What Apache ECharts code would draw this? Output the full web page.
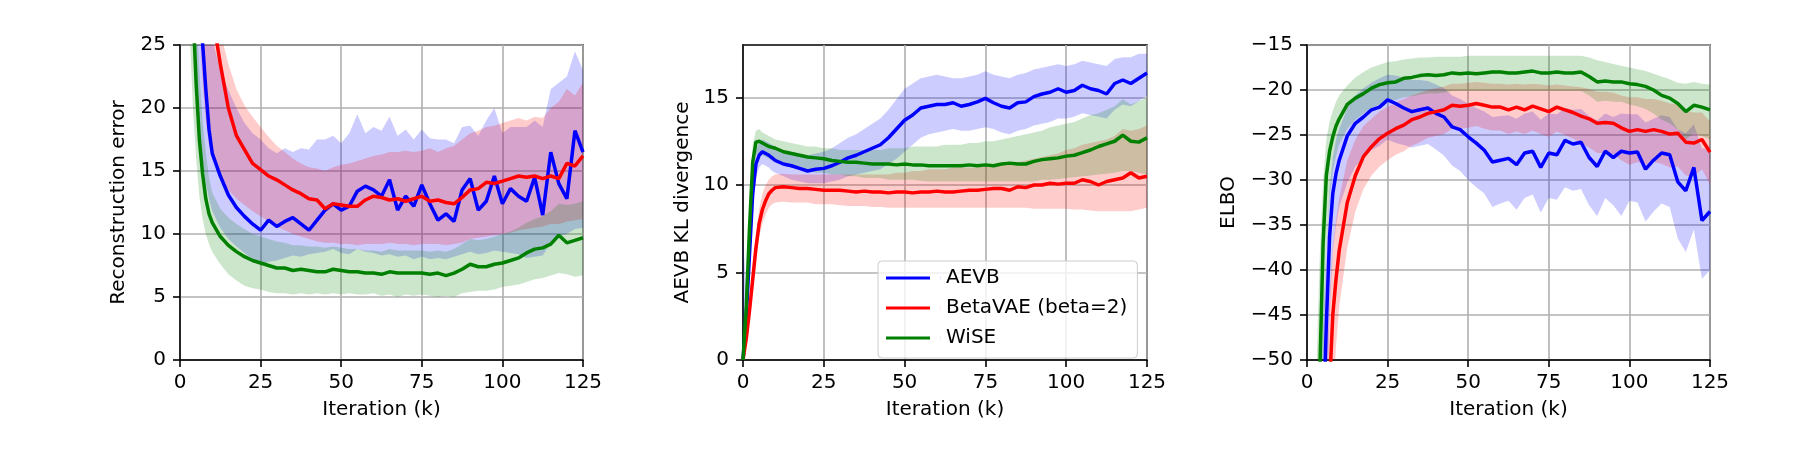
<!DOCTYPE html>
<html>
<head>
<meta charset="utf-8">
<script src="https://cdn.jsdelivr.net/npm/echarts@6/dist/echarts.min.js"></script>
<style>
  html, body { margin: 0; padding: 0; background: #fff; }
  #main { width: 1800px; height: 450px; }
</style>
</head>
<body>
<div id="main"></div>
<script>
// iteration grid (k), fine at the start where curves move fast
var iters = [0,1,2,3,4,5,6,7,8,9,10,
  12.5,15,17.5,20,22.5,25,27.5,30,32.5,35,37.5,40,
  42.5,45,47.5,50,52.5,55,57.5,60,62.5,65,67.5,70,
  72.5,75,77.5,80,82.5,85,87.5,90,92.5,95,97.5,100,
  102.5,105,107.5,110,112.5,115,117.5,120,122.5,125];

// ---- reconstruction error ----
var recAevb = [100,80,62,50,40,33,28,25.2,21.5,18.3,16.4,
  14.6,13.1,12.1,11.4,10.8,10.3,11.1,10.6,11.0,11.3,10.8,10.3,
  11.1,11.9,12.4,11.9,12.2,13.4,13.8,13.5,13.0,14.3,11.9,13.0,
  12.2,13.9,12.4,11.1,11.6,11.0,13.5,14.4,11.9,12.6,14.6,12.4,
  13.6,13.0,12.6,14.5,11.5,16.5,14.0,12.8,18.2,16.5];
var recAevbLo = [60,45,36,30,25,21,18,15.8,14,12.8,11.8,
  10.5,9.6,9.0,8.5,8.0,7.5,7.8,7.9,8.1,8.3,8.2,8.4,
  8.5,8.6,8.8,8.5,8.4,8.8,8.6,8.5,8.3,8.4,8.2,8.3,
  8.0,8.2,8.0,8.1,8.0,8.2,8.4,8.6,8.4,8.5,8.7,8.6,
  8.5,8.4,8.1,8.2,8.3,9.3,9.8,10.0,10.4,10.5];
var recAevbHi = [140,115,90,72,58,48,40,35,30,27,25.5,
  23.0,21.4,20.0,18.8,18.0,17.5,16.8,16.4,16.8,16.5,16.8,16.7,
  17.5,17.5,17.8,17.2,18.0,19.5,18.0,18.5,18.2,19.3,17.8,18.3,
  17.5,18.3,17.6,17.5,17.5,17.2,18.5,18.6,17.8,19.0,20.0,18.0,
  18.5,18.5,18.5,19.0,18.5,21.5,22.0,22.5,24.5,23.0];
var recBeta = [150,120,95,75,60,50,42,37,33,30,27.5,
  23.5,20.0,17.8,16.7,15.6,15.1,14.6,14.3,13.9,13.5,13.2,12.8,
  12.7,12.0,12.4,12.3,12.2,12.2,12.7,13.0,12.9,12.7,12.8,12.6,
  12.8,13.0,12.6,12.7,12.5,12.4,12.9,13.5,13.6,14.1,14.0,14.2,
  14.4,14.6,14.5,14.6,14.4,14.6,14.4,15.6,15.4,16.2];
var recBetaLo = [80,70,60,50,40,33,27,22,19,17,16,
  14.5,13.5,12.8,12.3,11.8,11.4,11.0,10.6,10.3,10.0,9.8,9.6,
  9.4,9.3,9.3,9.2,9.2,9.1,9.2,9.2,9.2,9.3,9.2,9.2,
  9.1,9.2,9.2,9.2,9.1,9.2,9.3,9.6,9.7,9.8,9.9,10.0,
  10.1,10.3,10.4,10.5,10.6,10.8,10.8,11.0,11.1,11.2];
var recBetaHi = [250,200,160,130,100,80,65,55,46,40,35,
  26,23.5,21.5,20.2,19.3,18.5,17.7,17.0,16.5,16.0,15.6,15.3,
  15.2,15.0,15.3,15.5,15.6,15.8,16.0,16.2,16.3,16.5,16.5,16.6,
  16.5,16.6,16.8,16.5,16.8,17.0,17.5,18.0,18.2,18.5,18.6,18.8,
  19.0,19.2,19.0,19.3,19.2,20.0,20.5,21.5,21.0,22.0];
var recWise = [80,60,45,36,28,22,17.5,14.8,12.8,11.6,10.9,
  9.8,9.1,8.6,8.2,7.9,7.7,7.5,7.3,7.3,7.1,7.2,7.1,
  7.0,7.0,7.2,7.1,7.0,7.0,6.9,6.9,6.8,7.0,6.9,6.9,
  6.9,6.9,6.8,6.9,6.7,6.9,7.2,7.6,7.4,7.4,7.6,7.7,
  7.9,8.1,8.5,8.8,8.9,9.2,9.9,9.3,9.5,9.7];
var recWiseLo = [60,45,34,26,20,16,13,11.2,10,9.2,8.6,
  7.6,6.8,6.3,5.9,5.7,5.6,5.4,5.3,5.3,5.2,5.3,5.2,
  5.3,5.2,5.3,5.2,5.3,5.2,5.2,5.3,5.1,5.2,5.0,5.2,
  5.1,5.2,5.1,5.0,5.1,5.0,5.3,5.4,5.5,5.5,5.6,5.8,
  5.9,6.0,6.2,6.4,6.5,6.7,6.9,6.8,6.6,6.7];
var recWiseHi = [100,80,60,46,36,28,23,19,16.5,14.5,13.3,
  12.0,11.3,10.8,10.4,10.0,9.8,9.6,9.4,9.3,9.1,9.1,9.0,
  9.0,8.9,9.0,8.9,8.8,8.8,8.7,8.7,8.6,8.8,8.7,8.7,
  8.7,8.7,8.6,8.7,8.6,8.8,9.2,9.6,9.5,9.6,9.8,10.0,
  10.2,10.5,10.9,11.2,11.4,11.8,12.4,12.3,12.4,12.6];

// ---- AEVB KL divergence ----
var klAevb = [0,2.5,6,9.5,11.2,11.7,11.9,11.8,11.7,11.55,11.4,
  11.2,11.1,10.95,10.8,10.9,10.95,11.1,11.3,11.55,11.7,11.9,12.1,
  12.3,12.7,13.2,13.7,14.0,14.4,14.5,14.6,14.6,14.7,14.5,14.6,
  14.75,14.95,14.7,14.5,14.4,14.7,14.75,15.05,15.2,15.3,15.5,15.3,
  15.4,15.7,15.5,15.4,15.2,15.8,16.0,15.8,16.1,16.4];
var klAevbLo = [0,1.5,4.5,8.5,10.4,11.0,11.2,11.1,11.0,10.8,10.7,
  10.5,10.3,10.2,10.1,10.1,10.1,10.2,10.3,10.5,10.6,10.7,10.8,
  10.9,11.2,11.5,11.9,12.3,12.7,12.9,13.0,13.1,13.2,13.1,13.1,
  13.2,13.3,13.2,13.0,12.9,13.1,13.2,13.4,13.5,13.6,13.8,13.8,
  13.9,14.1,14.0,13.9,13.8,14.3,14.6,14.5,14.8,15.1];
var klAevbHi = [7,4,7.5,10.5,12.0,12.4,12.6,12.5,12.4,12.3,12.2,
  12.0,11.9,11.8,11.7,11.8,11.9,12.1,12.4,12.7,12.9,13.2,13.5,
  13.8,14.3,14.9,15.5,15.8,16.1,16.2,16.3,16.2,16.1,16.1,16.2,
  16.3,16.5,16.3,16.2,16.1,16.3,16.4,16.6,16.7,16.8,16.9,16.8,
  16.9,17.1,17.0,16.9,16.8,17.2,17.3,17.3,17.5,17.5];
var klBeta = [0,1.2,2.8,4.6,6.4,7.8,8.6,9.1,9.5,9.7,9.85,
  9.9,9.85,9.8,9.8,9.75,9.7,9.7,9.7,9.65,9.6,9.65,9.6,
  9.6,9.55,9.6,9.6,9.55,9.6,9.6,9.65,9.6,9.6,9.65,9.7,
  9.7,9.75,9.8,9.8,9.7,9.9,9.85,10.0,10.0,10.1,10.05,10.1,
  10.1,10.3,10.2,10.0,10.2,10.3,10.4,10.7,10.4,10.5];
var klBetaLo = [0,0.8,2.2,3.8,5.6,7.0,7.8,8.3,8.7,8.9,9.0,
  9.05,9.0,9.0,9.0,8.9,8.9,8.9,8.85,8.8,8.8,8.8,8.75,
  8.75,8.7,8.7,8.7,8.7,8.7,8.7,8.7,8.7,8.7,8.7,8.7,
  8.7,8.7,8.7,8.7,8.7,8.7,8.7,8.65,8.65,8.65,8.65,8.65,
  8.6,8.6,8.55,8.5,8.5,8.5,8.5,8.5,8.6,8.7];
var klBetaHi = [0,1.6,3.4,5.4,7.2,8.6,9.5,10.0,10.3,10.5,10.6,
  10.65,10.6,10.6,10.6,10.6,10.6,10.6,10.6,10.6,10.6,10.6,10.6,
  10.6,10.6,10.7,10.7,10.8,10.8,10.9,10.9,10.9,11.0,11.0,11.0,
  11.0,11.1,11.1,11.2,11.2,11.3,11.4,11.5,11.6,11.7,11.8,12.0,
  12.1,12.3,12.4,12.5,12.6,12.8,13.2,13.1,13.2,13.4];
var klWise = [0,3,7.5,11.3,12.45,12.5,12.4,12.3,12.2,12.15,12.1,
  11.9,11.8,11.7,11.6,11.55,11.5,11.4,11.35,11.3,11.3,11.25,11.2,
  11.2,11.2,11.15,11.2,11.15,11.15,11.1,11.1,11.1,11.1,11.1,11.15,
  11.1,11.15,11.1,11.2,11.25,11.2,11.2,11.35,11.45,11.5,11.55,11.65,
  11.7,11.85,12.0,12.2,12.35,12.5,12.85,12.5,12.45,12.7];
var klWiseLo = [0,2,6,10.5,11.7,11.8,11.7,11.6,11.5,11.4,11.3,
  11.1,11.0,10.9,10.8,10.7,10.7,10.6,10.6,10.5,10.5,10.4,10.4,
  10.4,10.3,10.3,10.3,10.3,10.25,10.2,10.2,10.2,10.2,10.2,10.2,
  10.2,10.2,10.2,10.2,10.2,10.2,10.2,10.2,10.3,10.3,10.35,10.4,
  10.45,10.5,10.55,10.6,10.65,10.7,10.8,10.8,10.7,10.6];
var klWiseHi = [0.5,4,9,12.3,13.1,13.2,13.0,12.9,12.8,12.7,12.6,
  12.5,12.4,12.3,12.2,12.2,12.1,12.1,12.0,12.0,12.0,12.0,12.0,
  12.0,12.1,12.1,12.1,12.2,12.2,12.2,12.2,12.3,12.3,12.3,12.4,
  12.4,12.5,12.5,12.6,12.7,12.8,12.9,13.0,13.1,13.3,13.4,13.5,
  13.6,13.8,14.0,14.1,14.3,14.5,14.9,14.6,14.8,15.0];

// ---- ELBO ----
var elboAevb = [-250,-180,-130,-95,-72,-58,-46,-36.3,-31.5,-29.3,-27.8,
  -25.1,-23.7,-23.0,-22.2,-21.9,-21.1,-21.5,-22.0,-22.4,-22.2,-22.0,-22.6,
  -23.0,-24.1,-24.4,-25.2,-25.9,-26.7,-28.0,-27.8,-27.6,-28.3,-27.0,-26.8,
  -28.6,-27.0,-27.2,-25.6,-26.0,-25.8,-27.5,-28.5,-26.8,-27.5,-26.8,-27.0,
  -26.9,-28.8,-27.8,-27.0,-27.2,-30.2,-31.2,-28.6,-34.5,-33.5];
var elboAevbLo = [-300,-220,-160,-120,-90,-72,-58,-45,-38,-35,-33,
  -30.3,-28.5,-27.5,-26.7,-26.2,-25.5,-25.9,-26.1,-26.4,-26.2,-26.0,-26.6,
  -27.3,-28.4,-29.0,-30.0,-30.8,-31.5,-33.0,-32.6,-32.3,-33.3,-32.0,-31.6,
  -33.6,-32.0,-32.2,-30.8,-31.2,-31.0,-32.8,-34.0,-32.0,-32.8,-34.0,-32.3,
  -32.5,-34.6,-33.5,-32.6,-33.0,-36.5,-38.0,-35.5,-41.0,-40.0];
var elboAevbHi = [-200,-140,-100,-75,-58,-46,-38,-31,-27.5,-25.5,-24.3,
  -22.0,-20.6,-19.8,-19.2,-18.7,-18.3,-18.4,-18.6,-18.9,-18.9,-19.0,-19.4,
  -19.8,-20.6,-21.0,-21.5,-22.0,-22.4,-23.0,-22.9,-22.8,-23.2,-22.6,-22.4,
  -23.3,-22.6,-22.7,-22.0,-22.2,-22.1,-22.9,-23.4,-22.6,-23.0,-22.6,-22.7,
  -22.7,-23.6,-23.2,-22.8,-23.0,-24.4,-24.8,-23.8,-26.5,-26.5];
var elboBeta = [-300,-220,-160,-120,-92,-74,-62,-53,-45,-41,-37.8,
  -32.5,-29.5,-27.4,-26.3,-25.4,-24.8,-24.3,-23.9,-23.3,-23.0,-22.6,-22.4,
  -22.2,-21.7,-21.8,-21.7,-21.5,-21.7,-21.9,-21.9,-22.2,-21.9,-22.2,-21.8,
  -22.1,-22.4,-21.9,-22.2,-22.5,-22.9,-23.2,-23.7,-23.6,-23.7,-24.2,-24.6,
  -24.4,-24.6,-24.4,-24.6,-24.9,-24.8,-25.8,-25.9,-25.5,-26.9];
var elboBetaLo = [-350,-260,-190,-145,-110,-90,-75,-64,-55,-48.5,-44,
  -37.5,-33.5,-31.0,-29.5,-28.5,-27.8,-27.2,-26.8,-26.2,-25.8,-25.3,-25.1,
  -24.9,-24.3,-24.3,-24.2,-24.0,-24.3,-24.5,-24.5,-24.9,-24.6,-24.9,-24.5,
  -24.9,-25.2,-24.6,-25.0,-25.4,-25.9,-26.4,-27.0,-27.0,-27.1,-27.8,-28.3,
  -28.0,-28.3,-28.0,-28.2,-28.6,-28.5,-29.5,-29.6,-28.8,-30.5];
var elboBetaHi = [-250,-180,-130,-95,-75,-60,-50,-43,-37.5,-34.5,-32,
  -27.8,-25.5,-24.0,-23.2,-22.4,-21.9,-21.4,-21.0,-20.6,-20.3,-20.0,-19.8,
  -19.6,-19.3,-19.3,-19.2,-19.1,-19.2,-19.3,-19.3,-19.4,-19.3,-19.4,-19.3,
  -19.4,-19.5,-19.4,-19.5,-19.6,-19.7,-19.9,-20.2,-20.2,-20.3,-20.6,-20.8,
  -20.8,-21.0,-21.0,-21.2,-21.5,-21.6,-22.3,-22.5,-22.5,-23.5];
var elboWise = [-200,-130,-90,-65,-51,-37,-29.5,-26.8,-25.2,-24.0,-23.2,
  -21.6,-20.9,-20.4,-19.8,-19.4,-19.2,-19.1,-18.7,-18.6,-18.4,-18.3,-18.4,
  -18.3,-18.1,-18.2,-18.1,-18.2,-18.1,-18.0,-18.0,-18.1,-18.1,-18.0,-17.9,
  -18.1,-18.1,-18.0,-18.1,-18.1,-18.0,-18.5,-19.1,-19.0,-19.1,-19.1,-19.3,
  -19.4,-19.6,-20.0,-20.6,-20.9,-21.5,-22.4,-21.7,-21.9,-22.2];
var elboWiseLo = [-300,-200,-130,-90,-68,-52,-38,-32,-29,-27.3,-26,
  -24.3,-23.3,-22.6,-22.0,-21.6,-21.3,-21.1,-20.8,-20.7,-20.5,-20.4,-20.4,
  -20.3,-20.1,-20.1,-20.1,-20.1,-20.1,-20.1,-20.1,-20.1,-20.1,-20.1,-20.1,
  -20.1,-20.1,-20.1,-20.1,-20.1,-20.1,-20.6,-21.3,-21.2,-21.3,-21.3,-21.6,
  -21.8,-22.1,-22.6,-23.3,-23.7,-24.4,-25.5,-24.8,-25.1,-25.5];
var elboWiseHi = [-150,-100,-70,-50,-38,-30,-25.5,-23.5,-22.3,-21.3,-20.6,
  -19.5,-18.6,-18.0,-17.5,-17.2,-16.9,-16.8,-16.6,-16.5,-16.4,-16.4,-16.3,
  -16.3,-16.3,-16.3,-16.2,-16.2,-16.2,-16.2,-16.2,-16.2,-16.2,-16.2,-16.2,
  -16.2,-16.2,-16.2,-16.2,-16.2,-16.2,-16.4,-16.7,-16.9,-17.1,-17.3,-17.5,
  -17.7,-17.9,-18.2,-18.5,-18.8,-19.2,-19.3,-19.1,-19.3,-19.4];

var names = ['AEVB', 'BetaVAE (beta=2)', 'WiSE'];
var colors = ['#0000ff', '#ff0000', '#008000'];
var fills = ['rgba(0,0,255,0.2)', 'rgba(255,0,0,0.2)', 'rgba(0,128,0,0.2)'];

var FONT = 'DejaVu Sans';

function pts(ys) {
  return iters.map(function (x, i) { return [x, ys[i]]; });
}

var series = [];
// band as one polygon: upper edge forward, lower edge back, positioned with api.coord
function bandSeries(g, i, lo, hi) {
  return {
    type: 'custom', name: names[i] + ' band', xAxisIndex: g, yAxisIndex: g,
    data: iters.map(function (x, k) { return [x, lo[k], hi[k]]; }),
    encode: { x: 0, y: [1, 2] },
    silent: true, z: 1,
    renderItem: function (params, api) {
      if (params.dataIndex !== 0) return null;
      var poly = [];
      for (var k = 0; k < iters.length; k++) poly.push(api.coord([iters[k], hi[k]]));
      for (var k2 = iters.length - 1; k2 >= 0; k2--) poly.push(api.coord([iters[k2], lo[k2]]));
      var cs = params.coordSys;
      return {
        type: 'polygon',
        shape: { points: poly },
        style: { fill: fills[i], stroke: null },
        clipPath: { type: 'rect', shape: { x: cs.x, y: cs.y, width: cs.width, height: cs.height } }
      };
    }
  };
}
// g: grid index, sets: [[mean, lo, hi], ...] in AEVB, Beta, WiSE order
function addPanel(g, sets) {
  sets.forEach(function (s, i) { series.push(bandSeries(g, i, s[1], s[2])); });
  sets.forEach(function (s, i) {
    series.push({
      type: 'line', name: names[i], xAxisIndex: g, yAxisIndex: g,
      data: pts(s[0]), symbol: 'none',
      lineStyle: { color: colors[i], width: 3.5 },
      itemStyle: { color: colors[i] }, z: 3
    });
  });
}
addPanel(0, [[recAevb, recAevbLo, recAevbHi], [recBeta, recBetaLo, recBetaHi], [recWise, recWiseLo, recWiseHi]]);
addPanel(1, [[klAevb, klAevbLo, klAevbHi], [klBeta, klBetaLo, klBetaHi], [klWise, klWiseLo, klWiseHi]]);
addPanel(2, [[elboAevb, elboAevbLo, elboAevbHi], [elboBeta, elboBetaLo, elboBetaHi], [elboWise, elboWiseLo, elboWiseHi]]);

var lefts = [180, 743, 1307];
var widths = [403, 404, 403];
var grids = lefts.map(function (l, i) {
  return { left: l, top: 45, width: widths[i], height: 315, show: true,
    borderColor: '#000', borderWidth: 1.5, backgroundColor: 'transparent' };
});

function minus(v) { return String(v).replace('-', '\u2212'); }

var xAxes = [0, 1, 2].map(function (g) {
  return {
    type: 'value', gridIndex: g, min: 0, max: 125, interval: 25,
    name: 'Iteration (k)', nameLocation: 'middle', nameGap: 40,
    nameTextStyle: { fontFamily: FONT, fontSize: 20, color: '#000' },
    axisLine: { show: true, lineStyle: { color: '#000', width: 1.5 } },
    axisTick: { show: true, inside: false, length: 7, lineStyle: { color: '#000', width: 1.6 } },
    axisLabel: { fontFamily: FONT, fontSize: 20, color: '#000', margin: 13 },
    splitLine: { show: true, lineStyle: { color: '#b0b0b0', width: 1.6 } }
  };
});

var yNames = ['Reconstruction error', 'AEVB KL divergence', 'ELBO'];
var yGaps = [51, 50, 68];
var yRanges = [[0, 25], [0, 18], [-50, -15]];
var yAxes = [0, 1, 2].map(function (g) {
  var ax = {
    type: 'value', gridIndex: g, min: yRanges[g][0], max: yRanges[g][1], interval: 5,
    name: yNames[g], nameLocation: 'middle', nameGap: yGaps[g],
    nameTextStyle: { fontFamily: FONT, fontSize: 20, color: '#000' },
    axisLine: { show: true, lineStyle: { color: '#000', width: 1.5 } },
    axisTick: { show: true, inside: false, length: 7, lineStyle: { color: '#000', width: 1.6 } },
    axisLabel: { fontFamily: FONT, fontSize: 20, color: '#000', margin: 14, formatter: minus },
    splitLine: { show: true, lineStyle: { color: '#b0b0b0', width: 1.6 } }
  };
  if (g === 1) {
    ax.axisTick.customValues = [0, 5, 10, 15];
    ax.axisLabel.customValues = [0, 5, 10, 15];
  }
  return ax;
});

var chart = echarts.init(document.getElementById('main'), null, { renderer: 'canvas' });
chart.setOption({
  animation: false,
  backgroundColor: '#fff',
  grid: grids,
  xAxis: xAxes,
  yAxis: yAxes,
  legend: {
    data: names,
    orient: 'vertical',
    left: 878, top: 261,
    padding: [7, 10, 10, 8],
    itemGap: 10,
    // 44px line followed by empty space before the label
    itemWidth: 55, itemHeight: 3,
    icon: 'path://M0,0h44v3h-44z M54.9,0h0.1v3h-0.1z',
    borderColor: '#cccccc', borderWidth: 1, borderRadius: 4,
    backgroundColor: 'rgba(255,255,255,0.8)',
    textStyle: { fontFamily: FONT, fontSize: 20, color: '#000' }
  },
  series: series
});
</script>
</body>
</html>
